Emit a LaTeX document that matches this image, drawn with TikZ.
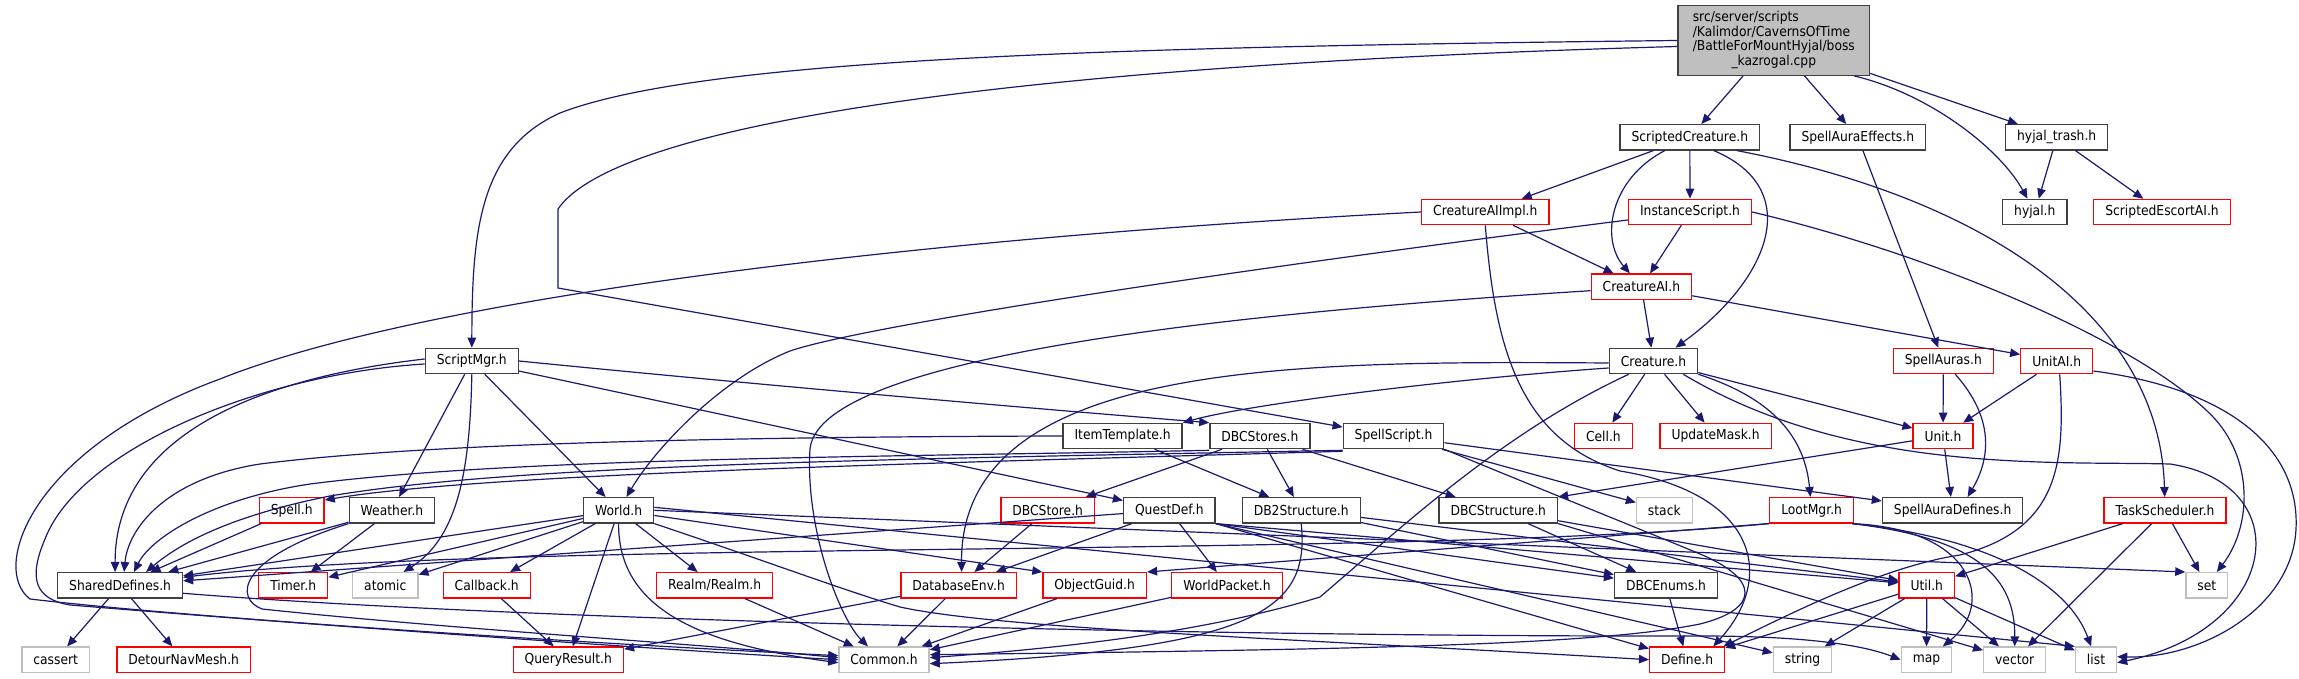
\documentclass[tikz,border=0pt]{standalone}
\usepackage{fontspec}
\setmainfont{DejaVu Sans}[FakeStretch=0.9]
\usetikzlibrary{arrows.meta}
\definecolor{edgeblue}{HTML}{191970}
\definecolor{sysgray}{HTML}{BFBFBF}
\definecolor{darkframe}{HTML}{404040}

\begin{document}
\begin{tikzpicture}[
  x=1pt, y=1pt,
  hdr/.style={rectangle, draw=darkframe, fill=white, line width=1.3pt, minimum height=25.3pt,
    inner xsep=11.5pt, inner ysep=0pt, font=\fontsize{13.7}{14.8}\selectfont},
  redhdr/.style={hdr, draw=red},
  syshdr/.style={hdr, draw=sysgray},
  rootbox/.style={hdr, fill=sysgray, minimum height=69.6pt, minimum width=191.6pt},
  inc/.style={draw=edgeblue, line width=1.2pt, -{Triangle[length=10pt,width=8.5pt]}}
]
  \useasboundingbox (0,0) rectangle (2299,679);

  % the .cpp file
  \node[rootbox] (root) at (1773.8,638.5) {\begin{tabular}{@{}l@{}}src/server/scripts\\/Kalimdor/CavernsOfTime\\/BattleForMountHyjal/boss\\\multicolumn{1}{@{}c@{}}{\_kazrogal.cpp}\end{tabular}};

  % rows 1-3
  \node[hdr] (sc) at (1689.8,541.7) {ScriptedCreature.h};
  \node[hdr] (sae) at (1857.8,541.7) {SpellAuraEffects.h};
  \node[hdr] (htrash) at (2056.7,541.7) {hyjal\_trash.h};
  \node[redhdr] (caiimpl) at (1485.3,467) {CreatureAIImpl.h};
  \node[redhdr] (iscript) at (1690,467) {InstanceScript.h};
  \node[hdr] (hyjal) at (2034.8,467) {hyjal.h};
  \node[redhdr] (escort) at (2162,467) {ScriptedEscortAI.h};
  \node[redhdr] (cai) at (1641.4,392.3) {CreatureAI.h};

  % row 4
  \node[hdr] (smgr) at (471.8,318) {ScriptMgr.h};
  \node[hdr] (creature) at (1653.5,318) {Creature.h};
  \node[redhdr] (sauras) at (1943.3,318) {SpellAuras.h};
  \node[redhdr] (unitai) at (2056.7,318) {UnitAI.h};

  % row 5
  \node[hdr] (itemt) at (1122.6,243) {ItemTemplate.h};
  \node[hdr] (dbcstores) at (1259.9,243) {DBCStores.h};
  \node[hdr] (sscript) at (1393.5,243) {SpellScript.h};
  \node[redhdr] (cell) at (1603.4,243) {Cell.h};
  \node[redhdr] (umask) at (1715.6,243) {UpdateMask.h};
  \node[redhdr] (unit) at (1943,243) {Unit.h};

  % row 6
  \node[redhdr] (spell) at (291.7,168.7) {Spell.h};
  \node[hdr] (weather) at (392,168.7) {Weather.h};
  \node[hdr] (world) at (618.6,168.7) {World.h};
  \node[redhdr] (dbcstore) at (1047.7,168.7) {DBCStore.h};
  \node[hdr] (questdef) at (1169.3,168.7) {QuestDef.h};
  \node[hdr] (db2s) at (1301.2,168.7) {DB2Structure.h};
  \node[hdr] (dbcs) at (1498.3,168.7) {DBCStructure.h};
  \node[syshdr] (stack) at (1664.3,168.7) {stack};
  \node[redhdr] (loot) at (1811.6,168.7) {LootMgr.h};
  \node[hdr] (sadef) at (1952.6,168.7) {SpellAuraDefines.h};
  \node[redhdr] (tasks) at (2165,168.7) {TaskScheduler.h};

  % row 7
  \node[hdr] (shdef) at (120.1,93.7) {SharedDefines.h};
  \node[redhdr] (timer) at (293.2,93.7) {Timer.h};
  \node[syshdr] (atomic) at (385.3,93.7) {atomic};
  \node[redhdr] (callback) at (486.7,93.7) {Callback.h};
  \node[redhdr] (realm) at (714.6,93.7) {Realm/Realm.h};
  \node[redhdr] (dbenv) at (958.6,93.7) {DatabaseEnv.h};
  \node[redhdr] (oguid) at (1094.7,93.7) {ObjectGuid.h};
  \node[redhdr] (wpacket) at (1227,93.7) {WorldPacket.h};
  \node[hdr] (dbcenums) at (1666,93.7) {DBCEnums.h};
  \node[redhdr] (util) at (1926.8,93.7) {Util.h};
  \node[syshdr] (set) at (2206.8,93.7) {set};

  % row 8
  \node[syshdr] (cassert) at (55.7,19.3) {cassert};
  \node[redhdr] (detour) at (183.7,19.3) {DetourNavMesh.h};
  \node[redhdr] (qresult) at (568.3,19.3) {QueryResult.h};
  \node[syshdr] (common) at (884,19.3) {Common.h};
  \node[redhdr] (define) at (1687.1,19.3) {Define.h};
  \node[syshdr] (string) at (1802.5,19.3) {string};
  \node[syshdr] (map) at (1926.5,19.3) {map};
  \node[syshdr] (vector) at (2014.7,19.3) {vector};
  \node[syshdr] (list) at (2096,19.3) {list};

  % includes of the .cpp file
  \draw[inc] (root) -- (sc);
  \draw[inc] (root) -- (sae);
  \draw[inc] ([xshift=-16pt]root.south east) .. controls (1930,585) and (2000,530) .. (hyjal);
  \draw[inc] (root) -- (htrash);
  \draw[inc] (root.west) .. controls (1100,632) and (700,620) .. (560,566) .. controls (480,530) and (472,450) .. (smgr);
  \draw[inc] ([yshift=-6pt]root.west) .. controls (1050,615) and (620,560) .. (558,470) -- (558,391) -- (sscript);

  % ScriptedCreature.h and its neighbours
  \draw[inc] (sc) -- (caiimpl);
  \draw[inc] ([xshift=-25pt]sc.south) .. controls (1610,500) and (1600,440) .. (cai);
  \draw[inc] (sc) -- (iscript);
  \draw[inc] ([xshift=24pt]sc.south) .. controls (1805,490) and (1770,400) .. ([xshift=22pt]creature.north);
  \draw[inc] ([xshift=47pt]sc.south) .. controls (1990,480) and (2160,360) .. (tasks);
  \draw[inc] (sae) -- (sauras);
  \draw[inc] (htrash) -- (hyjal);
  \draw[inc] (htrash) -- (escort);

  % CreatureAIImpl.h, InstanceScript.h, CreatureAI.h
  \draw[inc] (caiimpl) -- (cai);
  \draw[inc] (caiimpl.west) .. controls (900,440) and (420,380) .. (220,300) .. controls (30,230) and (-10,110) .. (30,80) .. controls (200,60) and (600,35) .. ([yshift=4pt]common.west);
  \draw[inc] (caiimpl.south) .. controls (1495,330) and (1520,240) .. (1620,208) .. controls (1760,185) and (1775,100) .. ([xshift=-12pt]define.north east);
  \draw[inc] (iscript) -- (cai);
  \draw[inc] ([yshift=-8pt]iscript.west) .. controls (1200,405) and (860,352) .. (790,328) .. controls (720,300) and (655,230) .. (world);
  \draw[inc] (iscript.east) .. controls (1950,420) and (2150,330) .. (2215,260) .. controls (2255,215) and (2250,150) .. ([xshift=10pt]set.north);
  \draw[inc] (cai) -- (creature);
  \draw[inc] (cai) -- (unitai);
  \draw[inc] ([yshift=-4pt]cai.west) .. controls (1300,370) and (820,330) .. (810,230) .. controls (805,150) and (840,60) .. ([xshift=-16pt]common.north);

  % ScriptMgr.h
  \draw[inc] ([yshift=-3pt]smgr.west) .. controls (260,305) and (80,230) .. (45,140) .. controls (28,100) and (35,80) .. (70,74) .. controls (300,55) and (650,30) .. (common.west);
  \draw[inc] ([yshift=2pt]smgr.west) .. controls (250,300) and (115,240) .. ([xshift=-5pt]shdef.north);
  \draw[inc] (smgr) -- (weather);
  \draw[inc] (smgr.south) .. controls (470,200) and (455,140) .. ([xshift=-15pt]atomic.north east);
  \draw[inc] (smgr) -- (world);
  \draw[inc] (smgr.east) .. controls (800,290) and (1100,265) .. (dbcstores.north west);
  \draw[inc] (smgr) -- (questdef);

  % Creature.h
  \draw[inc] (creature) -- (cell);
  \draw[inc] (creature) -- (umask);
  \draw[inc] (creature) -- (unit);
  \draw[inc] (creature.south east) .. controls (1775,280) and (1805,240) .. (loot);
  \draw[inc] ([yshift=-7pt]creature.west) .. controls (1450,300) and (1250,275) .. (itemt.north east);
  \draw[inc] ([yshift=-2pt]creature.west) .. controls (1300,318) and (960,320) .. ([xshift=3pt]dbenv.north);
  \draw[inc] ([xshift=20pt]creature.south west) .. controls (1500,245) and (1400,150) .. (1320,82) .. controls (1200,45) and (1050,30) .. ([yshift=2pt]common.east);
  \draw[inc] ([xshift=-15pt]creature.south east) .. controls (1850,205) and (2050,218) .. (2170,215) .. controls (2300,195) and (2280,50) .. ([yshift=-3pt]list.east);

  % UnitAI.h, SpellAuras.h, Unit.h
  \draw[inc] (unitai) -- (unit);
  \draw[inc] ([yshift=-10pt]unitai.east) .. controls (2230,290) and (2300,230) .. (2296,150) .. controls (2292,70) and (2200,20) .. ([yshift=3pt]list.east);
  \draw[inc] ([xshift=3pt]unitai.south) .. controls (2065,220) and (2062,150) .. (1960,124) .. controls (1880,112) and (1780,60) .. ([xshift=-2pt]define.north east);
  \draw[inc] (sauras) -- (unit);
  \draw[inc] ([xshift=12pt]sauras.south) .. controls (1995,260) and (1990,220) .. ([xshift=15pt]sadef.north);
  \draw[inc] (unit) -- (sadef);
  \draw[inc] (unit) -- (dbcs.north east);

  % ItemTemplate.h, DBCStores.h, SpellScript.h
  \draw[inc] (itemt.west) .. controls (700,242) and (420,235) .. (260,215) .. controls (165,200) and (128,150) .. ([xshift=4pt]shdef.north);
  \draw[inc] (itemt) -- (db2s);
  \draw[inc] (dbcstores) -- (dbcstore);
  \draw[inc] (dbcstores) -- (db2s);
  \draw[inc] (dbcstores) -- (dbcs);
  \draw[inc] ([yshift=-1pt]dbcstores.south west) .. controls (900,222) and (520,222) .. (310,195) .. controls (210,180) and (150,140) .. ([xshift=14pt]shdef.north);
  \draw[inc] ([yshift=-1pt]sscript.south west) .. controls (900,220) and (520,215) .. (330,183) .. controls (240,165) and (185,140) .. ([xshift=26pt]shdef.north);
  \draw[inc] ([yshift=-2pt]sscript.south west) .. controls (900,215) and (480,205) .. ([yshift=-3pt]spell.north east);
  \draw[inc] (sscript) -- (stack);
  \draw[inc] (sscript) -- (sadef);
  \draw[inc] (sscript.south east) .. controls (1540,190) and (1640,150) .. (1700,125) .. controls (1760,100) and (1760,70) .. (1700,55) .. controls (1600,35) and (1400,30) .. ([yshift=5pt]common.east);

  % Spell.h, Weather.h, World.h
  \draw[inc] (spell) -- (shdef);
  \draw[inc] (weather) -- (shdef);
  \draw[inc] (weather) -- (timer);
  \draw[inc] (weather.south west) .. controls (235,120) and (235,80) .. (262,70) .. controls (450,50) and (700,35) .. ([yshift=2pt]common.west);
  \draw[inc] (world) -- (shdef);
  \draw[inc] (world) -- (timer);
  \draw[inc] (world) -- (atomic);
  \draw[inc] (world) -- (callback);
  \draw[inc] (world) -- (qresult);
  \draw[inc] (world) -- (realm);
  \draw[inc] (world) -- (oguid.north west);
  \draw[inc] (world.east) -- (set.north west);
  \draw[inc] ([yshift=3pt]world.east) -- (list.north west);
  \draw[inc] (world.south) .. controls (618,70) and (700,35) .. ([yshift=-3pt]common.west);
  \draw[inc] (world.south east) .. controls (760,120) and (840,90) .. (900,72) .. controls (1000,50) and (1300,40) .. (define.west);

  % QuestDef.h, DB2Structure.h, DBCStructure.h
  \draw[inc] (questdef) -- (shdef);
  \draw[inc] (questdef) -- (dbenv);
  \draw[inc] (questdef) -- (wpacket);
  \draw[inc] (questdef.south east) -- (dbcenums);
  \draw[inc] (questdef.south east) -- (util);
  \draw[inc] (questdef.south east) -- (string);
  \draw[inc] (questdef.south east) -- (define);
  \draw[inc] (db2s) -- (dbcenums);
  \draw[inc] (db2s) -- (util);
  \draw[inc] (db2s.south) .. controls (1310,70) and (1260,30) .. ([yshift=-4pt]common.east);
  \draw[inc] (dbcs) -- (dbcenums);
  \draw[inc] (dbcs) -- (util);
  \draw[inc] (dbcs.south east) -- (vector);

  % LootMgr.h, TaskScheduler.h
  \draw[inc] (loot.south west) .. controls (1400,120) and (500,140) .. ([yshift=8pt]shdef.east);
  \draw[inc] (loot.south west) -- (oguid.north east);
  \draw[inc] ([xshift=-2pt]loot.south east) .. controls (1975,150) and (1995,75) .. (map);
  \draw[inc] ([xshift=-2pt]loot.south east) .. controls (1980,140) and (2015,100) .. (vector);
  \draw[inc] ([xshift=-2pt]loot.south east) .. controls (2000,140) and (2070,90) .. (list);
  \draw[inc] (tasks) -- (util);
  \draw[inc] (tasks) -- (vector);
  \draw[inc] (tasks) -- (set);

  % bottom rows
  \draw[inc] ([yshift=-8pt]shdef.east) .. controls (500,60) and (1200,42) .. (1700,43) .. controls (1800,43) and (1860,35) .. (map.west);
  \draw[inc] (shdef) -- (cassert);
  \draw[inc] (shdef) -- (detour);
  \draw[inc] (util) -- (string);
  \draw[inc] (util) -- (map);
  \draw[inc] (util) -- (vector);
  \draw[inc] (util) -- (list);
  \draw[inc] (util) -- (define);
  \draw[inc] (dbcenums) -- (define);
  \draw[inc] (dbcstore) -- (dbenv);
  \draw[inc] (dbenv) -- (common);
  \draw[inc] (dbenv) -- (qresult);
  \draw[inc] (oguid) -- (common);
  \draw[inc] (wpacket) -- (common);
  \draw[inc] (realm) -- (common);
  \draw[inc] (callback) -- (qresult);
\end{tikzpicture}
\end{document}
